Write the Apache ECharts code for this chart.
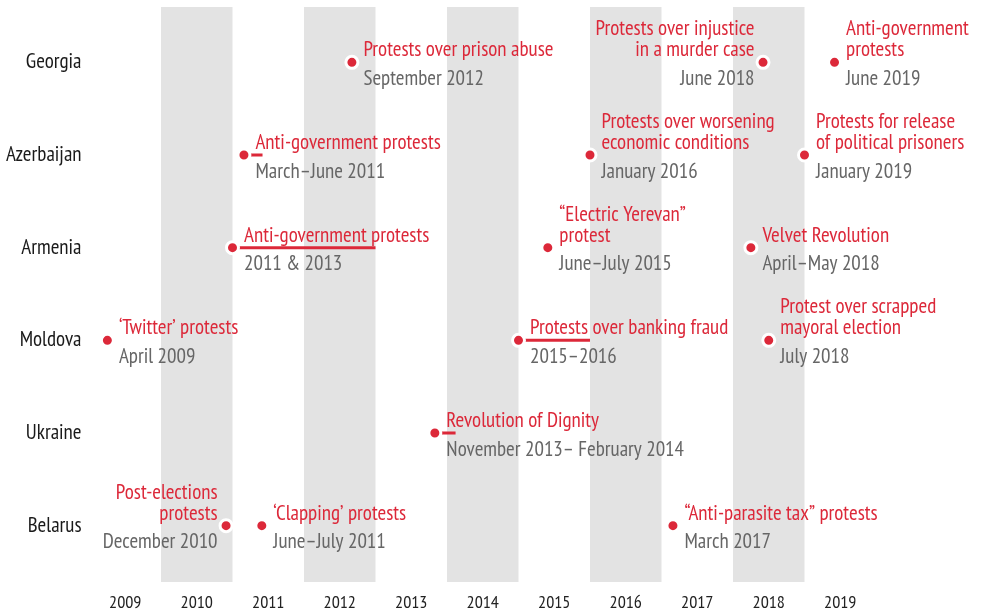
<!DOCTYPE html>
<html>
<head>
<meta charset="utf-8">
<title>Protests timeline</title>
<script src="https://cdn.jsdelivr.net/npm/echarts@6/dist/echarts.min.js"></script>
<style>
  html, body { margin: 0; padding: 0; background: #fff; }
  #chart { width: 981px; height: 615px; }
</style>
</head>
<body>
<div id="chart"></div>
<script>
const FONT = "'PT Sans Narrow', 'Liberation Sans Narrow', 'DejaVu Sans Condensed', sans-serif";
const RED = '#dc2839';
const GREY = '#666666';

// rows and columns
const countries = ['Georgia', 'Azerbaijan', 'Armenia', 'Moldova', 'Ukraine', 'Belarus'];
const years = ['2009', '2010', '2011', '2012', '2013', '2014', '2015', '2016', '2017', '2018', '2019'];
const shaded = [0, 1, 0, 1, 0, 1, 0, 1, 0, 1, 0];

// events (time as decimal year)
const eventCountry = [
  'Georgia', 'Georgia', 'Georgia',
  'Azerbaijan', 'Azerbaijan', 'Azerbaijan',
  'Armenia', 'Armenia', 'Armenia',
  'Moldova', 'Moldova', 'Moldova',
  'Ukraine',
  'Belarus', 'Belarus', 'Belarus'
];
const eventTime = [
  2012.67, 2018.42, 2019.42,
  2011.16, 2016.0, 2019.0,
  2011.0, 2015.41, 2018.25,
  2009.25, 2015.0, 2018.5,
  2013.83,
  2010.91, 2011.41, 2017.16
];
const eventTitle = [
  'Protests over prison abuse', 'Protests over injustice\nin a murder case', 'Anti-government\nprotests',
  'Anti-government protests', 'Protests over worsening\neconomic conditions', 'Protests for release\nof political prisoners',
  'Anti-government protests', '“Electric Yerevan”\nprotest', 'Velvet Revolution',
  '‘Twitter’ protests', 'Protests over banking fraud', 'Protest over scrapped\nmayoral election',
  'Revolution of Dignity',
  'Post-elections\nprotests', '‘Clapping’ protests', '“Anti-parasite tax” protests'
];
const eventDate = [
  'September 2012', 'June 2018', 'June 2019',
  'March–June 2011', 'January 2016', 'January 2019',
  '2011 & 2013', 'June–July 2015', 'April–May 2018',
  'April 2009', '2015–2016', 'July 2018',
  'November 2013– February 2014',
  'December 2010', 'June–July 2011', 'March 2017'
];
// events whose label sits left of the dot
const leftLabeled = [1, 13];

// durations drawn as red bars
const spanCountry = ['Azerbaijan', 'Armenia', 'Moldova', 'Ukraine'];
const spanStart = [2011.16, 2011.0, 2015.0, 2013.83];
const spanEnd = [2011.42, 2013.0, 2016.0, 2014.12];

const chart = echarts.init(document.getElementById('chart'));

const dots = eventTime.map(function (t, i) {
  const lines = eventTitle[i].split('\n');
  const left = leftLabeled.indexOf(i) >= 0;
  return {
    value: [t, eventCountry[i]],
    label: {
      position: left ? 'left' : 'right',
      distance: left ? 1 : 4,
      offset: [0, 6 - 10.5 * (lines.length - 1)],
      formatter: lines.map(function (l) { return '{t|' + l + '}'; }).join('\n') + '\n{d|' + eventDate[i] + '}'
    }
  };
});

const spans = spanStart.map(function (s, i) {
  return {
    type: 'line',
    xAxisIndex: 1,
    yAxisIndex: 1,
    symbol: 'none',
    silent: true,
    z: 3,
    lineStyle: { color: RED, width: 3 },
    data: [[s, spanCountry[i]], [spanEnd[i], spanCountry[i]]]
  };
});

const option = {
  animation: false,
  textStyle: { fontFamily: FONT },
  grid: [
    { left: 89.5, right: 105, top: 7, bottom: 33 },
    { left: 89.5, right: 105, top: 16, bottom: 43 }
  ],
  xAxis: [
    {
      type: 'category',
      gridIndex: 0,
      data: years,
      axisLine: { show: false },
      axisTick: { show: false },
      axisLabel: { fontFamily: FONT, fontSize: 18, color: '#222', margin: 12 }
    },
    {
      type: 'value',
      gridIndex: 1,
      min: 2009,
      max: 2020,
      show: false
    }
  ],
  yAxis: [
    { type: 'value', gridIndex: 0, min: 0, max: 1, show: false },
    {
      type: 'category',
      gridIndex: 1,
      data: countries,
      inverse: true,
      axisLine: { show: false },
      axisTick: { show: false },
      splitLine: { show: false },
      axisLabel: { fontFamily: FONT, fontSize: 21, color: '#1a1a1a', margin: 8 }
    }
  ],
  series: [
    {
      type: 'bar',
      xAxisIndex: 0,
      yAxisIndex: 0,
      data: shaded,
      barCategoryGap: '0%',
      silent: true,
      itemStyle: { color: '#e3e3e3' }
    }
  ].concat(spans).concat([
    {
      type: 'scatter',
      xAxisIndex: 1,
      yAxisIndex: 1,
      z: 4,
      symbolSize: 12,
      itemStyle: { color: RED, borderColor: '#fff', borderWidth: 3, opacity: 1 },
      label: {
        show: true,
        fontFamily: FONT,
        rich: {
          t: { fontFamily: FONT, fontSize: 21, color: RED, lineHeight: 21 },
          d: { fontFamily: FONT, fontSize: 21, color: GREY, lineHeight: 36 }
        }
      },
      data: dots
    }
  ])
};

chart.setOption(option);
window.onresize = function () { chart.resize(); };
</script>
</body>
</html>
